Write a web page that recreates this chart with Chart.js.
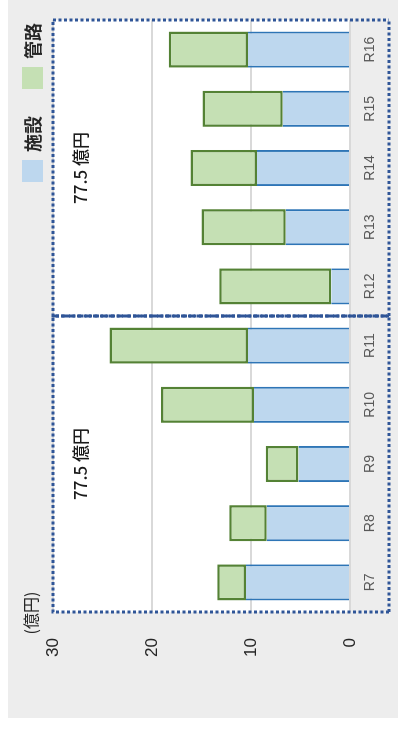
<!DOCTYPE html>
<html lang="ja">
<head>
<meta charset="utf-8">
<title>施設・管路 更新費用</title>
<script src="https://cdn.jsdelivr.net/npm/chart.js@4.4.1/dist/chart.umd.min.js"></script>
<style>
  html, body { margin: 0; padding: 0; background: #ffffff; overflow: hidden; }
  /* the chart is laid out landscape and turned a quarter turn counter-clockwise */
  #frame {
    position: absolute; left: 0; top: 0;
    width: 731px; height: 398px;
    transform-origin: 0 0;
    transform: translateY(731px) rotate(-90deg);
  }
  canvas { display: block; }
</style>
</head>
<body>
<div id="frame"><canvas id="chart" width="731" height="398"></canvas></div>
<script>
// fiscal years
const categories = ['R7', 'R8', 'R9', 'R10', 'R11', 'R12', 'R13', 'R14', 'R15', 'R16'];
// 施設 (facilities), 億円
const facilityValues = [10.5, 8.4, 5.2, 9.7, 10.3, 1.9, 6.5, 9.4, 6.8, 10.3];
// 管路 (pipelines), 億円
const pipelineValues = [2.9, 3.8, 3.3, 9.4, 14.0, 11.3, 8.5, 6.7, 8.1, 8.0];
// value axis ticks
const valueTicks = [0, 10, 20, 30];
// five-year groups framed by dotted boxes: [first index, last index]
const periodGroups = [[0, 4], [5, 9]];

const JP = '"Noto Sans CJK JP", "Noto Sans", sans-serif';

function groupTotal(g) {
  let s = 0;
  for (let i = g[0]; i <= g[1]; i++) s += facilityValues[i] + pipelineValues[i];
  return s;
}

const decorations = {
  id: 'decorations',
  beforeDraw(chart) {
    const ctx = chart.ctx, a = chart.chartArea;
    ctx.save();
    ctx.fillStyle = '#ededed';
    ctx.fillRect(13, 8, chart.width - 13, chart.height - 8);
    ctx.fillStyle = '#ffffff';
    ctx.fillRect(a.left, a.top, a.right - a.left, a.bottom - a.top);
    ctx.restore();
  },
  afterDraw(chart) {
    const ctx = chart.ctx, a = chart.chartArea, x = chart.scales.x;
    const step = (a.right - a.left) / categories.length;
    const top = a.top, bottom = a.bottom + 39;
    ctx.save();

    // dotted period boxes
    ctx.strokeStyle = '#2f5597';
    ctx.lineWidth = 3;
    const edges = [];
    periodGroups.forEach(g => {
      const l = x.getPixelForValue(g[0]) - step / 2;
      const r = x.getPixelForValue(g[1]) + step / 2;
      edges.push([l, r]);
      ctx.setLineDash([3, 2.5]);
      ctx.beginPath();
      ctx.moveTo(l, bottom); ctx.lineTo(l, top);
      ctx.lineTo(r, top);
      ctx.moveTo(l, bottom); ctx.lineTo(r, bottom);
      ctx.stroke();
    });
    // outer right edge and shared divider
    ctx.beginPath();
    ctx.moveTo(edges[1][1], top); ctx.lineTo(edges[1][1], bottom);
    ctx.stroke();
    ctx.setLineDash([6, 2]);
    ctx.beginPath();
    ctx.moveTo(edges[0][1], top); ctx.lineTo(edges[0][1], bottom);
    ctx.stroke();
    ctx.setLineDash([]);

    // group totals
    ctx.fillStyle = '#1a1a1a';
    ctx.font = '500 17px ' + JP;
    ctx.textAlign = 'center';
    ctx.textBaseline = 'middle';
    periodGroups.forEach((g, k) => {
      const cx = (edges[k][0] + edges[k][1]) / 2;
      ctx.fillText(groupTotal(g).toFixed(1) + ' 億円', cx, 81);
    });

    // unit
    ctx.font = '16px ' + JP;
    ctx.fillStyle = '#262626';
    ctx.fillText('(億円)', 118, 31);

    // legend
    const items = [
      { label: '施設', fill: '#bdd7ee', u: 549 },
      { label: '管路', fill: '#c5e0b4', u: 642 }
    ];
    ctx.font = 'bold 18px ' + JP;
    ctx.textAlign = 'left';
    items.forEach(it => {
      ctx.fillStyle = it.fill;
      ctx.fillRect(it.u, 22, 22, 21);
      ctx.fillStyle = '#262626';
      ctx.fillText(it.label, it.u + 30, 33);
    });
    ctx.restore();
  }
};

new Chart(document.getElementById('chart'), {
  type: 'bar',
  data: {
    labels: categories,
    datasets: [
      {
        label: '施設',
        data: facilityValues,
        backgroundColor: '#bdd7ee',
        borderColor: '#2e75b6',
        borderWidth: { left: 2, right: 2, top: 0, bottom: 0 },
        borderSkipped: false,
        categoryPercentage: 1.0,
        barPercentage: 0.61
      },
      {
        label: '管路',
        data: pipelineValues,
        backgroundColor: '#c5e0b4',
        borderColor: '#548235',
        borderWidth: 2.5,
        borderSkipped: false,
        categoryPercentage: 1.0,
        barPercentage: 0.61
      }
    ]
  },
  options: {
    responsive: false,
    animation: false,
    devicePixelRatio: 1,
    layout: { padding: { top: 53, right: 20, left: 0, bottom: 0 } },
    plugins: { legend: { display: false }, tooltip: { enabled: false } },
    scales: {
      x: {
        stacked: true,
        grid: { display: false, drawTicks: false },
        border: { display: false },
        ticks: {
          color: '#595959',
          font: { family: '"Liberation Sans", sans-serif', size: 14 },
          padding: 12,
          maxRotation: 0,
          autoSkip: false
        },
        afterFit(s) { s.height = 48; }
      },
      y: {
        stacked: true,
        min: valueTicks[0],
        max: valueTicks[valueTicks.length - 1],
        afterBuildTicks(s) { s.ticks = valueTicks.map(v => ({ value: v })); },
        grid: { color: '#d9d9d9', lineWidth: 2, drawTicks: false },
        border: { display: false },
        ticks: {
          color: '#262626',
          font: { family: '"Liberation Sans", sans-serif', size: 17 },
          padding: 26
        },
        afterFit(s) { s.width = 119; }
      }
    }
  },
  plugins: [decorations]
});
</script>
</body>
</html>
